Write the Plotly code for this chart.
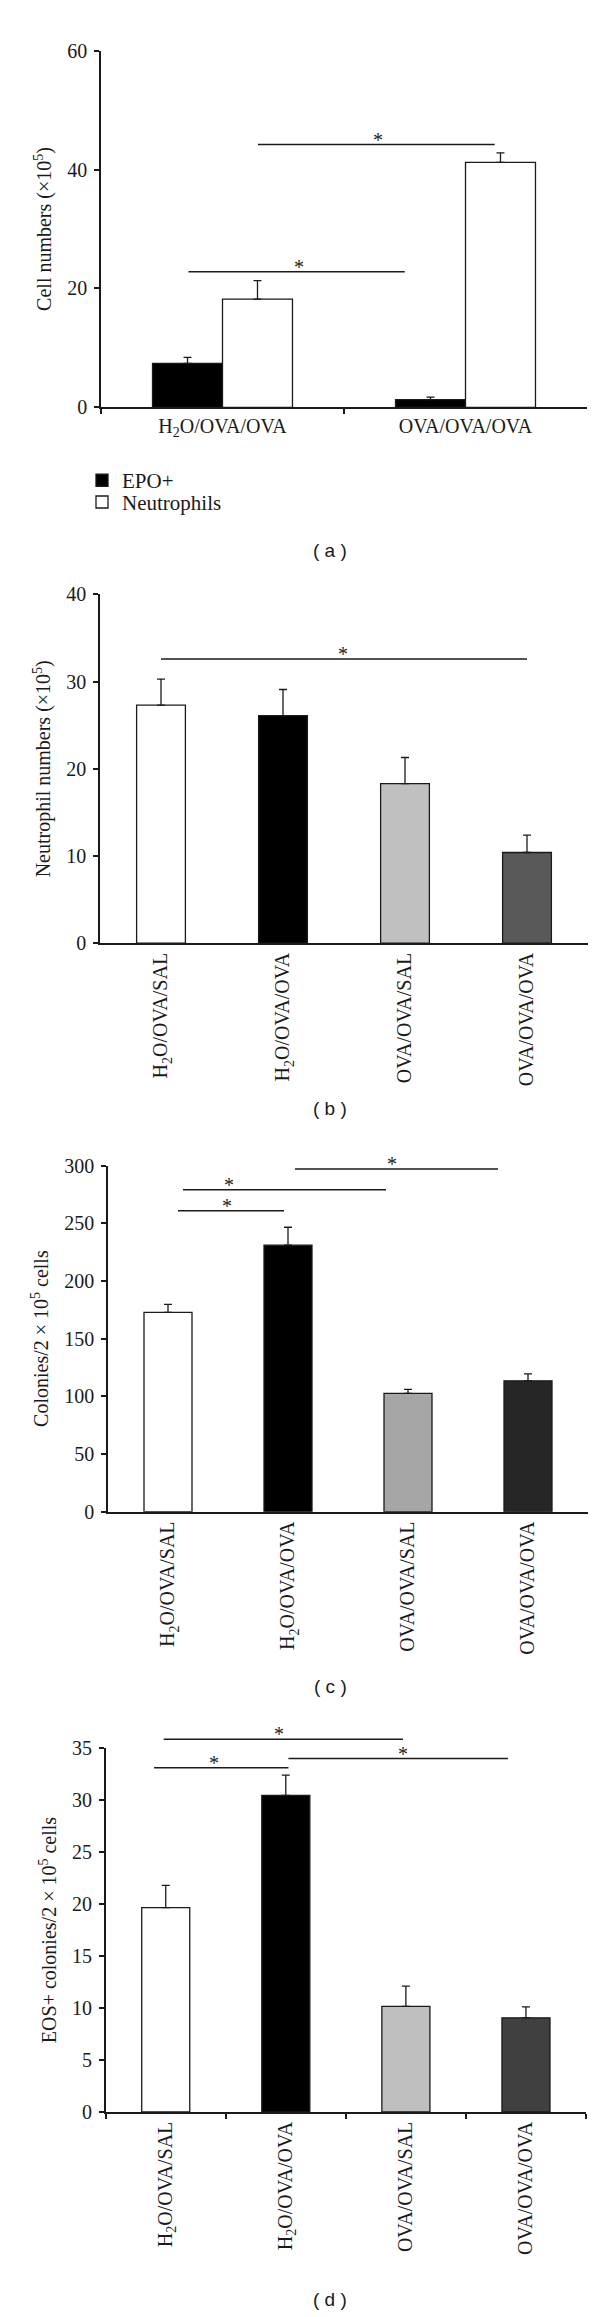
import plotly.graph_objects as go

W, H = 600, 2317
SERIF = "Liberation Serif, Times New Roman, serif"
SANS = "Liberation Sans, Arial, sans-serif"
INK = "#1a1a1a"
FS = 20

# ---------------- data ----------------
cats_a = ["H<sub>2</sub>O/OVA/OVA", "OVA/OVA/OVA"]
epo_a = [7.4, 1.3]
epo_a_err = [1.0, 0.4]
neut_a = [18.2, 41.2]
neut_a_err = [3.1, 1.6]

cats = ["H<sub>2</sub>O/OVA/SAL", "H<sub>2</sub>O/OVA/OVA", "OVA/OVA/SAL", "OVA/OVA/OVA"]
neut_b = [27.3, 26.1, 18.3, 10.4]
neut_b_err = [3.0, 3.0, 3.0, 2.0]
col_c = [172.7, 231.0, 102.5, 113.4]
col_c_err = [7.0, 15.5, 3.5, 6.0]
eos_d = [19.65, 30.45, 10.15, 9.05]
eos_d_err = [2.15, 1.95, 1.95, 1.05]

colors_b = ["#ffffff", "#000000", "#c0c0c0", "#595959"]
colors_c = ["#ffffff", "#000000", "#a6a6a6", "#262626"]
colors_d = ["#ffffff", "#000000", "#bfbfbf", "#404040"]

y_titles = ["Cell numbers (×10<sup>5</sup>)",
            "Neutrophil numbers (×10<sup>5</sup>)",
            "Colonies/2 × 10<sup>5</sup> cells",
            "EOS+ colonies/2 × 10<sup>5</sup> cells"]
y_max = [60, 40, 300, 35]
y_dtick = [20, 10, 50, 5]
panel_tags = ["( a )", "( b )", "( c )", "( d )"]

# significance lines: (x0, x1, y) in category units / data units
sig_a = [(-0.14, 0.75, 22.8), (0.146, 1.12, 44.2)]
sig_b = [(0.0, 3.0, 32.6)]
sig_c = [(0.083, 0.967, 260.8), (0.125, 1.817, 279.0), (1.058, 2.75, 297.0)]
sig_d = [(-0.017, 1.976, 35.85), (-0.097, 1.022, 33.1), (1.022, 2.85, 34.0)]
# star positions: (x, y)
stars_a = [(0.315, 22.8), (0.64, 44.2)]
stars_b = [(1.488, 32.6)]
stars_c = [(0.49, 260.8), (0.508, 279.0), (1.867, 297.0)]
stars_d = [(0.944, 35.85), (0.403, 33.1), (1.976, 34.0)]

# ---------------- layout geometry (px) ----------------
panels = [
    dict(x0=93, x1=579, ytop=32, ybot=392),
    dict(x0=92, x1=580, ytop=581, ybot=933),
    dict(x0=100, x1=580, ytop=1157.5, ybot=1507),
    dict(x0=97.7, x1=578, ytop=1745.7, ybot=2113),
]
tag_pos = [(322, 537), (322, 1100), (322, 1683), (322, 2302)]

fig = go.Figure()

err_style = dict(type="data", symmetric=False, color=INK, thickness=1.3, width=4)
bar_line = dict(color=INK, width=1.3)

# panel a
fig.add_trace(go.Bar(x=cats_a, y=epo_a, name="EPO+", marker=dict(color="#000000", line=bar_line),
                     error_y=dict(array=epo_a_err, arrayminus=[0] * len(epo_a), **err_style),
                     xaxis="x", yaxis="y", legend="legend"))
fig.add_trace(go.Bar(x=cats_a, y=neut_a, name="Neutrophils", marker=dict(color="#ffffff", line=bar_line),
                     error_y=dict(array=neut_a_err, arrayminus=[0] * len(neut_a), **err_style),
                     xaxis="x", yaxis="y", legend="legend2"))

# panels b-d
for i, (vals, errs, cols) in enumerate([(neut_b, neut_b_err, colors_b),
                                        (col_c, col_c_err, colors_c),
                                        (eos_d, eos_d_err, colors_d)], start=2):
    fig.add_trace(go.Bar(x=cats, y=vals, width=0.4, showlegend=False,
                         marker=dict(color=cols, line=bar_line),
                         error_y=dict(array=errs, arrayminus=[0] * len(vals), **err_style),
                         xaxis=f"x{i}", yaxis=f"y{i}"))

leg_common = dict(xanchor="left", yanchor="middle", font=dict(family=SERIF, size=21, color=INK),
                  itemwidth=30, bgcolor="rgba(0,0,0,0)")
layout = dict(
    width=W, height=H, margin=dict(l=0, r=0, t=0, b=0),
    paper_bgcolor="white", plot_bgcolor="white",
    barmode="group", bargap=0.424, bargroupgap=0,
    font=dict(family=SERIF, size=FS, color=INK),
    legend=dict(x=74 / W, y=1 - 466 / H, **leg_common),
    legend2=dict(x=74 / W, y=1 - 488 / H, **leg_common),
    showlegend=True,
)

shapes, annotations = [], []
sigs = [sig_a, sig_b, sig_c, sig_d]
stars = [stars_a, stars_b, stars_c, stars_d]
ncats = [len(cats_a), len(cats), len(cats), len(cats)]

for k, p in enumerate(panels):
    sfx = "" if k == 0 else str(k + 1)
    xd = [p["x0"] / W, p["x1"] / W]
    yd = [1 - p["ybot"] / H, 1 - p["ytop"] / H]
    layout[f"xaxis{sfx}"] = dict(
        domain=xd, anchor=f"y{sfx}", type="category", range=[-0.5, ncats[k] - 0.5],
        showline=True, linecolor=INK, linewidth=1.5, showgrid=False, zeroline=False,
        ticks="outside" if k in (0, 3) else "", tickson="boundaries", ticklen=5,
        tickcolor=INK, tickwidth=1.5,
        tickangle=0 if k == 0 else -90, tickfont=dict(family=SERIF, size=FS, color=INK),
        fixedrange=True,
    )
    layout[f"yaxis{sfx}"] = dict(
        domain=yd, anchor=f"x{sfx}", range=[0, y_max[k]], dtick=y_dtick[k],
        showline=True, linecolor=INK, linewidth=1.5, showgrid=False, zeroline=False,
        ticks="outside", ticklen=5, tickcolor=INK, tickwidth=1.5,
        tickfont=dict(family=SERIF, size=FS, color=INK), ticklabelstandoff=3,
        title=dict(text=y_titles[k], font=dict(family=SERIF, size=FS, color=INK), standoff=10),
        fixedrange=True,
    )
    n = ncats[k]
    for (x0, x1, yv) in sigs[k]:
        shapes.append(dict(type="line", xref=f"x{sfx} domain", yref=f"y{sfx} domain",
                           x0=(x0 + 0.5) / n, x1=(x1 + 0.5) / n,
                           y0=yv / y_max[k], y1=yv / y_max[k],
                           line=dict(color=INK, width=1.5)))
    for (xs, yv) in stars[k]:
        annotations.append(dict(xref=f"x{sfx} domain", yref=f"y{sfx} domain",
                                x=(xs + 0.5) / n, y=yv / y_max[k], text="*", showarrow=False,
                                xanchor="center", yanchor="middle", yshift=5,
                                font=dict(family=SERIF, size=FS, color=INK)))
    tx, ty = tag_pos[k]
    annotations.append(dict(xref="paper", yref="paper", x=tx / W, y=1 - ty / H,
                            text=panel_tags[k], showarrow=False, xanchor="center", yanchor="middle",
                            font=dict(family=SANS, size=19, color=INK)))

layout["shapes"] = shapes
layout["annotations"] = annotations
fig.update_layout(**layout)

fig.write_html("out.html")
